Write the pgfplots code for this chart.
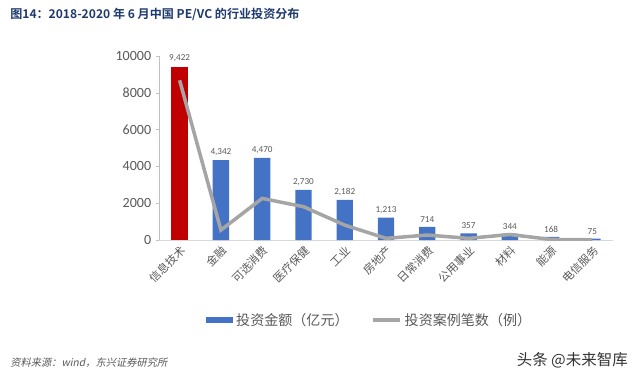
\documentclass[border=0pt]{standalone}
\usepackage{pgfplots}
\pgfplotsset{compat=1.18}
\usepackage{fontspec}
\setmainfont{Carlito}
\newfontfamily\cjk[BoldFont={Noto Sans CJK SC Bold}]{Noto Sans CJK SC}
\newfontfamily\cjkit[FakeSlant=0.2]{Noto Sans CJK SC}
\definecolor{barblue}{HTML}{4472C4}
\definecolor{barred}{HTML}{C00000}
\definecolor{linegray}{HTML}{A5A5A5}
\definecolor{titleblue}{HTML}{1F3A6E}
\definecolor{txt}{HTML}{595959}
\begin{document}
\begin{tikzpicture}
\path[use as bounding box] (0,0) rectangle (16,9.6);
\node[anchor=west, inner sep=0pt, text=titleblue] at (0.25,9.25) {\cjk\bfseries\fontsize{8.6}{10}\selectfont 图14：2018-2020 年 6 月中国 PE/VC 的行业投资分布};
\begin{axis}[
  at={(3.975cm,3.6cm)}, anchor=south west,
  width=11.35cm, height=4.6cm, scale only axis,
  xmin=-0.5, xmax=10.5, ymin=0, ymax=10000,
  axis x line=bottom, axis y line=left,
  x axis line style={draw=black!15, -},
  y axis line style={draw=blue!25!black!25, -},
  xtick={0,...,10},
  xticklabels={信息技术,金融,可选消费,医疗保健,工业,房地产,日常消费,公用事业,材料,能源,电信服务},
  xtick style={draw=none},
  xticklabel style={rotate=45, anchor=north east, inner sep=1pt, font=\cjk\fontsize{8}{9}\selectfont, text=txt},
  ytick={0,2000,4000,6000,8000,10000},
  yticklabel style={font=\fontsize{10}{12}\selectfont, text=txt, /pgf/number format/1000 sep={}},
  ytick style={draw=blue!25!black!25},
  tick align=outside, major tick length=2pt,
  /pgf/number format/assume math mode=true,
  scaled y ticks=false,
  legend style={at={(0.465,-0.435)}, anchor=center, draw=none, legend columns=2,
    font=\cjk\fontsize{10}{11}\selectfont, text=txt,
    /tikz/every even column/.append style={column sep=14pt}},
  nodes near coords={\pgfmathprintnumber[1000 sep={,}]{\pgfplotspointmeta}},
  every node near coord/.append style={font=\fontsize{6.5}{7}\selectfont, text=txt, inner sep=3pt},
]
\addplot[ybar, bar width=0.41cm, bar shift=0pt, fill=barred, draw=none, forget plot] coordinates {(0,9422)};
\addplot[ybar, bar width=0.41cm, bar shift=0pt, fill=barblue, draw=none,
  legend image code/.code={\fill[barblue] (0cm,-0.07cm) rectangle (0.68cm,0.07cm);}]
  coordinates {(1,4342) (2,4470) (3,2730) (4,2182) (5,1213) (6,714) (7,357) (8,344) (9,168) (10,75)};
\addlegendentry{投资金额（亿元）}
\addplot[draw=linegray, line width=2.5pt, mark=none, nodes near coords={},
  legend image code/.code={\draw[linegray, line width=2.5pt] (0cm,0cm) -- (0.68cm,0cm);}]
  coordinates {(0,8680) (1,540) (2,2260) (3,1810) (4,810) (5,90) (6,270) (7,90) (8,300) (9,30) (10,10)};
\addlegendentry{投资案例笔数（例）}
\end{axis}
\node[anchor=west, inner sep=0pt, text=txt] at (0.25,0.525) {\cjkit\fontsize{7.3}{8}\selectfont 资料来源：wind，东兴证券研究所};
\node[anchor=east, inner sep=0pt, text=black!80] at (15.7,0.6) {\cjk\fontsize{11}{12}\selectfont 头条 @未来智库};
\end{tikzpicture}
\end{document}
